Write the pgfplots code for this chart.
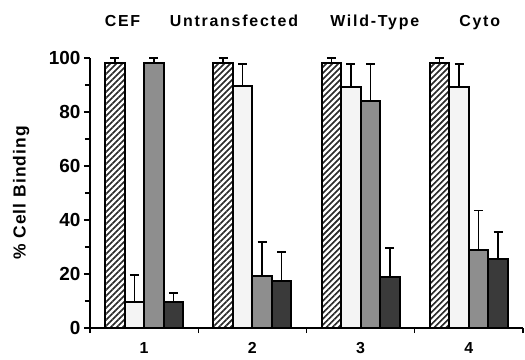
\documentclass[border=0pt]{standalone}
\usepackage{fontspec}
\setmainfont{Liberation Sans}
\usepackage{pgfplots}
\pgfplotsset{compat=1.18}
\usetikzlibrary{patterns.meta}
\definecolor{lightbar}{HTML}{F4F4F4}
\definecolor{midbar}{HTML}{8E8E8E}
\definecolor{darkbar}{HTML}{3A3A3A}
\begin{document}
\begin{tikzpicture}
\path[use as bounding box] (-90bp,-32bp) rectangle (435bp,328bp);
\begin{axis}[
  at={(0,0)}, anchor=south west, scale only axis,
  width=433bp, height=270bp,
  xmin=0, xmax=4, ymin=0, ymax=100,
  axis x line*=bottom, axis y line*=left,
  axis line style={line width=1.5bp},
  ybar=0pt, bar width=19.5bp,
  xtick={0.5,1.5,2.5,3.5}, xticklabels={1,2,3,4},
  minor xtick={0,1,2,3,4},
  ytick={0,20,...,100}, minor ytick={10,30,50,70,90},
  tick align=outside,
  major tick length=6bp, minor tick length=5bp,
  every major x tick/.append style={draw=none},
  every tick/.append style={line width=1.3bp, black},
  /pgf/number format/assume math mode=true,
  xticklabel style={font=\bfseries\fontsize{16}{16}\selectfont, yshift=-5bp},
  yticklabel style={font=\bfseries\fontsize{19}{19}\selectfont},
  ylabel={\% Cell Binding},
  ylabel style={font=\bfseries\fontsize{17.5}{17.5}\selectfont\addfontfeature{LetterSpace=6}, at={(axis description cs:-0.159,0.5)}, anchor=center},
  clip=false,
  every axis plot/.append style={
    error bars/y dir=plus, error bars/y explicit,
    error bars/error bar style={line width=1.6bp, black},
    error bars/error mark options={line width=1.8bp, mark size=4.5bp, black, rotate=90}},
]
\addplot[draw=black, line width=1.9bp, pattern={Lines[angle=45, distance=4.24bp, line width=1.6bp]}, pattern color=black!85] coordinates {(0.5,98) +- (0,2) (1.5,98) +- (0,2) (2.5,98) +- (0,2) (3.5,98) +- (0,2)};
\addplot[draw=black, line width=1.9bp, fill=lightbar] coordinates {(0.5,9.7) +- (0,9.8) (1.5,89.7) +- (0,8.1) (2.5,89.1) +- (0,8.7) (3.5,89.1) +- (0,8.7)};
\addplot[draw=black, line width=1.9bp, fill=midbar] coordinates {(0.5,98) +- (0,2) (1.5,19.3) +- (0,12.6) (2.5,84.1) +- (0,13.7) (3.5,28.9) +- (0,14.6)};
\addplot[draw=black, line width=1.9bp, fill=darkbar] coordinates {(0.5,9.7) +- (0,3.2) (1.5,17.3) +- (0,10.7) (2.5,18.8) +- (0,10.7) (3.5,25.6) +- (0,10)};
\begin{scope}[font=\bfseries\fontsize{16}{16}\selectfont\addfontfeature{LetterSpace=11}]
\node[anchor=base] at (axis cs:0.30,111.5) {CEF};
\node[anchor=base] at (axis cs:1.33,111.5) {Untransfected};
\node[anchor=base] at (axis cs:2.63,111.5) {Wild-Type};
\node[anchor=base] at (axis cs:3.60,111.5) {Cyto};
\end{scope}
\end{axis}
\end{tikzpicture}
\end{document}
